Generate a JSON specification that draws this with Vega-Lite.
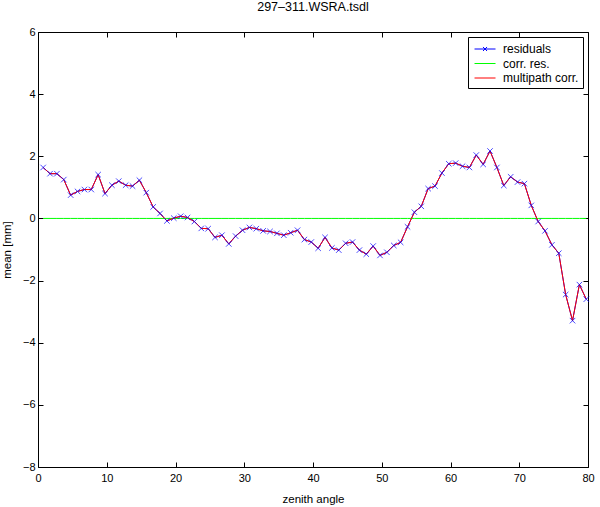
{
  "$schema": "https://vega.github.io/schema/vega-lite/v6.json",
  "width": 550,
  "height": 435,
  "autosize": "none",
  "padding": {"left": 38, "top": 32, "right": 12, "bottom": 40},
  "background": "white",
  "title": {"text": "297–311.WSRA.tsdl", "font": "Liberation Sans", "fontSize": 12.5, "fontWeight": "normal", "color": "black", "offset": 13, "anchor": "middle"},
  "config": {
    "view": {"stroke": "black", "strokeWidth": 1},
    "axis": {
      "labelFont": "Liberation Sans", "labelFontSize": 11, "labelColor": "black", "labelFlush": false,
      "titleFont": "Liberation Sans", "titleFontSize": 11.5, "titleFontWeight": "normal", "titleColor": "black",
      "domain": false, "grid": false, "tickColor": "black", "tickSize": -5, "labelPadding": 8
    },
    "axisX": {"labelPadding": 10},
    "legend": {
      "labelFont": "Liberation Sans", "labelFontSize": 12, "labelColor": "black"
    }
  },
  "data": {
    "values": [
      {"a": 0.75, "residuals": 1.64, "corr_res": 0, "multipath_corr": 1.64},
      {"a": 1.75, "residuals": 1.44, "corr_res": 0, "multipath_corr": 1.44},
      {"a": 2.75, "residuals": 1.44, "corr_res": 0, "multipath_corr": 1.44},
      {"a": 3.75, "residuals": 1.25, "corr_res": 0, "multipath_corr": 1.25},
      {"a": 4.75, "residuals": 0.75, "corr_res": 0, "multipath_corr": 0.75},
      {"a": 5.75, "residuals": 0.87, "corr_res": 0, "multipath_corr": 0.87},
      {"a": 6.75, "residuals": 0.93, "corr_res": 0, "multipath_corr": 0.93},
      {"a": 7.75, "residuals": 0.93, "corr_res": 0, "multipath_corr": 0.93},
      {"a": 8.75, "residuals": 1.41, "corr_res": 0, "multipath_corr": 1.41},
      {"a": 9.75, "residuals": 0.80, "corr_res": 0, "multipath_corr": 0.80},
      {"a": 10.75, "residuals": 1.07, "corr_res": 0, "multipath_corr": 1.07},
      {"a": 11.75, "residuals": 1.20, "corr_res": 0, "multipath_corr": 1.20},
      {"a": 12.75, "residuals": 1.07, "corr_res": 0, "multipath_corr": 1.07},
      {"a": 13.75, "residuals": 1.04, "corr_res": 0, "multipath_corr": 1.04},
      {"a": 14.75, "residuals": 1.23, "corr_res": 0, "multipath_corr": 1.23},
      {"a": 15.75, "residuals": 0.83, "corr_res": 0, "multipath_corr": 0.83},
      {"a": 16.75, "residuals": 0.37, "corr_res": 0, "multipath_corr": 0.37},
      {"a": 17.75, "residuals": 0.16, "corr_res": 0, "multipath_corr": 0.16},
      {"a": 18.75, "residuals": -0.08, "corr_res": 0, "multipath_corr": -0.08},
      {"a": 19.75, "residuals": 0.01, "corr_res": 0, "multipath_corr": 0.01},
      {"a": 20.75, "residuals": 0.07, "corr_res": 0, "multipath_corr": 0.07},
      {"a": 21.75, "residuals": 0.03, "corr_res": 0, "multipath_corr": 0.03},
      {"a": 22.75, "residuals": -0.10, "corr_res": 0, "multipath_corr": -0.10},
      {"a": 23.75, "residuals": -0.32, "corr_res": 0, "multipath_corr": -0.32},
      {"a": 24.75, "residuals": -0.33, "corr_res": 0, "multipath_corr": -0.33},
      {"a": 25.75, "residuals": -0.61, "corr_res": 0, "multipath_corr": -0.61},
      {"a": 26.75, "residuals": -0.54, "corr_res": 0, "multipath_corr": -0.54},
      {"a": 27.75, "residuals": -0.82, "corr_res": 0, "multipath_corr": -0.82},
      {"a": 28.75, "residuals": -0.57, "corr_res": 0, "multipath_corr": -0.57},
      {"a": 29.75, "residuals": -0.38, "corr_res": 0, "multipath_corr": -0.38},
      {"a": 30.75, "residuals": -0.29, "corr_res": 0, "multipath_corr": -0.29},
      {"a": 31.75, "residuals": -0.33, "corr_res": 0, "multipath_corr": -0.33},
      {"a": 32.75, "residuals": -0.40, "corr_res": 0, "multipath_corr": -0.40},
      {"a": 33.75, "residuals": -0.42, "corr_res": 0, "multipath_corr": -0.42},
      {"a": 34.75, "residuals": -0.48, "corr_res": 0, "multipath_corr": -0.48},
      {"a": 35.75, "residuals": -0.54, "corr_res": 0, "multipath_corr": -0.54},
      {"a": 36.75, "residuals": -0.46, "corr_res": 0, "multipath_corr": -0.46},
      {"a": 37.75, "residuals": -0.38, "corr_res": 0, "multipath_corr": -0.38},
      {"a": 38.75, "residuals": -0.68, "corr_res": 0, "multipath_corr": -0.68},
      {"a": 39.75, "residuals": -0.76, "corr_res": 0, "multipath_corr": -0.76},
      {"a": 40.75, "residuals": -0.96, "corr_res": 0, "multipath_corr": -0.96},
      {"a": 41.75, "residuals": -0.61, "corr_res": 0, "multipath_corr": -0.61},
      {"a": 42.75, "residuals": -0.95, "corr_res": 0, "multipath_corr": -0.95},
      {"a": 43.75, "residuals": -1.02, "corr_res": 0, "multipath_corr": -1.02},
      {"a": 44.75, "residuals": -0.80, "corr_res": 0, "multipath_corr": -0.80},
      {"a": 45.75, "residuals": -0.76, "corr_res": 0, "multipath_corr": -0.76},
      {"a": 46.75, "residuals": -1.02, "corr_res": 0, "multipath_corr": -1.02},
      {"a": 47.75, "residuals": -1.15, "corr_res": 0, "multipath_corr": -1.15},
      {"a": 48.75, "residuals": -0.89, "corr_res": 0, "multipath_corr": -0.89},
      {"a": 49.75, "residuals": -1.19, "corr_res": 0, "multipath_corr": -1.19},
      {"a": 50.75, "residuals": -1.09, "corr_res": 0, "multipath_corr": -1.09},
      {"a": 51.75, "residuals": -0.87, "corr_res": 0, "multipath_corr": -0.87},
      {"a": 52.75, "residuals": -0.77, "corr_res": 0, "multipath_corr": -0.77},
      {"a": 53.75, "residuals": -0.27, "corr_res": 0, "multipath_corr": -0.27},
      {"a": 54.75, "residuals": 0.20, "corr_res": 0, "multipath_corr": 0.20},
      {"a": 55.75, "residuals": 0.39, "corr_res": 0, "multipath_corr": 0.39},
      {"a": 56.75, "residuals": 0.96, "corr_res": 0, "multipath_corr": 0.96},
      {"a": 57.75, "residuals": 1.04, "corr_res": 0, "multipath_corr": 1.04},
      {"a": 58.75, "residuals": 1.46, "corr_res": 0, "multipath_corr": 1.46},
      {"a": 59.75, "residuals": 1.76, "corr_res": 0, "multipath_corr": 1.76},
      {"a": 60.75, "residuals": 1.78, "corr_res": 0, "multipath_corr": 1.78},
      {"a": 61.75, "residuals": 1.68, "corr_res": 0, "multipath_corr": 1.68},
      {"a": 62.75, "residuals": 1.64, "corr_res": 0, "multipath_corr": 1.64},
      {"a": 63.75, "residuals": 2.04, "corr_res": 0, "multipath_corr": 2.04},
      {"a": 64.75, "residuals": 1.74, "corr_res": 0, "multipath_corr": 1.74},
      {"a": 65.75, "residuals": 2.17, "corr_res": 0, "multipath_corr": 2.17},
      {"a": 66.75, "residuals": 1.64, "corr_res": 0, "multipath_corr": 1.64},
      {"a": 67.75, "residuals": 1.06, "corr_res": 0, "multipath_corr": 1.06},
      {"a": 68.75, "residuals": 1.34, "corr_res": 0, "multipath_corr": 1.34},
      {"a": 69.75, "residuals": 1.17, "corr_res": 0, "multipath_corr": 1.17},
      {"a": 70.75, "residuals": 1.12, "corr_res": 0, "multipath_corr": 1.12},
      {"a": 71.75, "residuals": 0.42, "corr_res": 0, "multipath_corr": 0.42},
      {"a": 72.75, "residuals": -0.10, "corr_res": 0, "multipath_corr": -0.10},
      {"a": 73.75, "residuals": -0.40, "corr_res": 0, "multipath_corr": -0.40},
      {"a": 74.75, "residuals": -0.85, "corr_res": 0, "multipath_corr": -0.85},
      {"a": 75.75, "residuals": -1.12, "corr_res": 0, "multipath_corr": -1.12},
      {"a": 76.75, "residuals": -2.45, "corr_res": 0, "multipath_corr": -2.45},
      {"a": 77.75, "residuals": -3.29, "corr_res": 0, "multipath_corr": -3.29},
      {"a": 78.75, "residuals": -2.13, "corr_res": 0, "multipath_corr": -2.13},
      {"a": 79.75, "residuals": -2.60, "corr_res": 0, "multipath_corr": -2.60}
    ]
  },
  "resolve": {"axis": {"x": "independent", "y": "independent"}},
  "layer": [
    {
      "transform": [{"fold": ["residuals", "corr_res", "multipath_corr"], "as": ["series", "value"]}],
      "mark": {"type": "line", "strokeWidth": 1},
      "encoding": {
        "x": {"field": "a", "type": "quantitative", "scale": {"domain": [0, 80], "nice": false}, "axis": {"title": "zenith angle", "values": [0, 10, 20, 30, 40, 50, 60, 70, 80], "titlePadding": 10}},
        "y": {"field": "value", "type": "quantitative", "scale": {"domain": [-8, 6], "nice": false}, "axis": {"title": "mean  [mm]", "values": [-8, -6, -4, -2, 0, 2, 4, 6], "titlePadding": 10}},
        "color": {
          "field": "series", "type": "nominal",
          "scale": {"domain": ["residuals", "corr_res", "multipath_corr"], "range": ["#0000ff", "#00ff00", "#ff0000"]},
          "legend": {
            "title": null, "orient": "top-right", "offset": 5, "padding": 4,
            "strokeColor": "black", "fillColor": "white",
            "symbolSize": 225, "symbolStrokeWidth": 1, "labelOffset": 15, "rowPadding": 0.5,
            "labelExpr": "datum.label == 'corr_res' ? 'corr. res.' : datum.label == 'multipath_corr' ? 'multipath corr.' : datum.label",
            "encode": {"symbols": {"update": {"shape": {"signal": "datum.value == 'residuals' ? 'M-0.73,0H2.07M0.4,-0.27L0.94,0.27M0.4,0.27L0.94,-0.27' : 'M-0.73,0H2.07'"}}}}
          }
        }
      }
    },
    {
      "mark": {"type": "point", "shape": "M-1,-1L1,1M-1,1L1,-1", "filled": false, "size": 30, "strokeWidth": 1, "color": "#0000ff"},
      "encoding": {
        "x": {"field": "a", "type": "quantitative", "axis": null},
        "y": {"field": "residuals", "type": "quantitative", "axis": null}
      }
    },
    {
      "mark": {"type": "point", "opacity": 0},
      "encoding": {
        "x": {"field": "a", "type": "quantitative", "axis": {"orient": "top", "labels": false, "title": null, "values": [0, 10, 20, 30, 40, 50, 60, 70, 80]}},
        "y": {"field": "residuals", "type": "quantitative", "axis": {"orient": "right", "labels": false, "title": null, "values": [-8, -6, -4, -2, 0, 2, 4, 6]}}
      }
    }
  ]
}
